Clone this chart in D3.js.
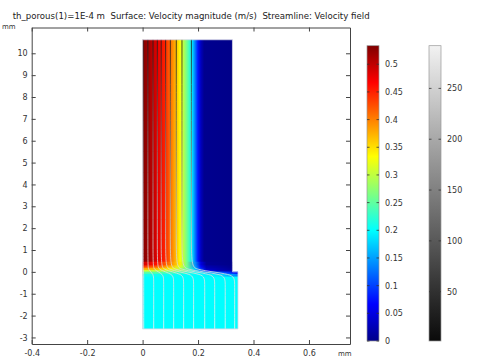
<!DOCTYPE html>
<html><head><meta charset="utf-8">
<script src="https://cdn.jsdelivr.net/npm/d3@7"></script>
<style>body{margin:0;background:#fff}svg{display:block}</style>
</head><body><svg id="c" width="483" height="363"></svg>
<script>
// ---------- data ----------
const titleText = "th_porous(1)=1E-4 m  Surface: Velocity magnitude (m/s)  Streamline: Velocity field";
const xTicks = [-0.4, -0.2, 0, 0.2, 0.4, 0.6];
const xTickLabels = ["-0.4", "-0.2", "0", "0.2", "0.4", "0.6"];
const yTicks = [-3, -2, -1, 0, 1, 2, 3, 4, 5, 6, 7, 8, 9, 10];
const yTickLabels = ["-3", "-2", "-1", "0", "1", "2", "3", "4", "5", "6", "7", "8", "9", "10"];
const xDomain = [-0.4, 0.748];
const yDomain = [-3.3, 11.18];

// geometry (mm)
const channelBox = [0, 0.324, 0, 10.62];   // x0,x1,y0,y1
const porousBox = [0, 0.344, -2.61, 0];

// developed velocity profile in the channel (x in mm, |u| in m/s)
const upperX = [0, 0.027, 0.055, 0.08, 0.1, 0.12, 0.135, 0.153, 0.167, 0.178, 0.189, 0.2, 0.21, 0.222, 0.324];
const upperV = [0.533, 0.51, 0.48, 0.45, 0.41, 0.37, 0.333, 0.28, 0.235, 0.19, 0.133, 0.075, 0.03, 0.003, 0];

// transition bands around the interface y = 0
const bandY0 = [0.28, 0.18, 0.08, 0.0, -0.1, -0.2];
const bandY1 = [0.45, 0.28, 0.18, 0.08, 0.0, -0.1];
const bandX = [
  [0, 0.05, 0.1, 0.135, 0.16, 0.19, 0.21, 0.23, 0.324],
  [0, 0.05, 0.1, 0.135, 0.16, 0.19, 0.21, 0.23, 0.324],
  [0, 0.05, 0.1, 0.135, 0.16, 0.19, 0.21, 0.23, 0.324],
  [0, 0.1, 0.15, 0.18, 0.2, 0.23, 0.27, 0.324],
  [0, 0.15, 0.2, 0.25, 0.3, 0.344],
  [0, 0.2, 0.27, 0.31, 0.344]
];
const bandV = [
  [0.49, 0.46, 0.4, 0.34, 0.26, 0.14, 0.05, 0.006, 0],
  [0.44, 0.42, 0.37, 0.32, 0.26, 0.15, 0.07, 0.02, 0.002],
  [0.38, 0.37, 0.34, 0.3, 0.25, 0.17, 0.09, 0.03, 0.006],
  [0.31, 0.3, 0.27, 0.22, 0.16, 0.07, 0.03, 0.02],
  [0.25, 0.23, 0.2, 0.15, 0.1, 0.06],
  [0.21, 0.2, 0.19, 0.16, 0.13]
];
const porousV = 0.2;

// streamlines: x position in the porous part and in the channel (mm)
const streamLowerX = [0.004, 0.040, 0.076, 0.112, 0.148, 0.184, 0.224, 0.260, 0.298, 0.332];
const streamUpperX = [0.002, 0.019, 0.0375, 0.053, 0.067, 0.083, 0.100, 0.1215, 0.142, 0.176];
// streamline colour quantity along y
const presY = [10.62, 0, -2.61];
const presV = [20, 268, 292];

// colour legends
const velRange = [0, 0.5335];
const velTicks = [0, 0.05, 0.1, 0.15, 0.2, 0.25, 0.3, 0.35, 0.4, 0.45, 0.5];
const velLabels = ["0", "0.05", "0.1", "0.15", "0.2", "0.25", "0.3", "0.35", "0.4", "0.45", "0.5"];
const presRange = [1.5, 292];
const presTicks = [50, 100, 150, 200, 250];
const presLabels = ["50", "100", "150", "200", "250"];

// ---------- drawing ----------
const svg = d3.select("#c");
const FONT = "DejaVu Sans, sans-serif";
const x = d3.scaleLinear().domain(xDomain).range([31.7, 350]);
const y = d3.scaleLinear().domain(yDomain).range([344, 27.5]);

const jetStops = [0, 0.125, 0.375, 0.625, 0.875, 1];
const jet = d3.scaleLinear()
  .domain(jetStops.map(t => velRange[0] + t * (velRange[1] - velRange[0])))
  .range(["#00008a", "#0000ff", "#00ffff", "#ffff00", "#ff0000", "#800000"])
  .clamp(true);
const gray = d3.scaleLinear().domain(presRange).range(["#0a0a0a", "#f2f2f2"]).clamp(true);

const defs = svg.append("defs");
let gid = 0;
function hGrad(xs, vs, width) {
  const id = "g" + (gid++);
  const g = defs.append("linearGradient").attr("id", id)
    .attr("x1", 0).attr("x2", 1).attr("y1", 0).attr("y2", 0);
  xs.forEach((xv, i) => g.append("stop").attr("offset", xv / width).attr("stop-color", jet(vs[i])));
  return "url(#" + id + ")";
}

const field = svg.append("g");
// porous region
field.append("rect")
  .attr("x", x(porousBox[0])).attr("y", y(porousBox[3]))
  .attr("width", x(porousBox[1]) - x(porousBox[0]))
  .attr("height", y(porousBox[2]) - y(porousBox[3]))
  .attr("fill", jet(porousV));
// channel
field.append("rect")
  .attr("x", x(channelBox[0])).attr("y", y(channelBox[3]))
  .attr("width", x(channelBox[1]) - x(channelBox[0]))
  .attr("height", y(channelBox[2]) - y(channelBox[3]))
  .attr("fill", hGrad(upperX, upperV, channelBox[1]));
// transition bands
bandY0.forEach((y0, i) => {
  const w = y0 >= 0 ? channelBox[1] : porousBox[1];
  field.append("rect")
    .attr("x", x(0)).attr("y", y(bandY1[i]) - 0.3)
    .attr("width", x(w) - x(0))
    .attr("height", y(y0) - y(bandY1[i]) + 0.6)
    .attr("fill", hGrad(bandX[i], bandV[i], w));
});

// streamlines
const sg = defs.append("linearGradient").attr("id", "sgrad")
  .attr("gradientUnits", "userSpaceOnUse")
  .attr("x1", 0).attr("x2", 0).attr("y1", y(presY[0])).attr("y2", y(presY[presY.length - 1]));
presY.forEach((py, i) => sg.append("stop")
  .attr("offset", (y(py) - y(presY[0])) / (y(presY[presY.length - 1]) - y(presY[0])))
  .attr("stop-color", gray(presV[i])));
const line = d3.line().x(d => x(d[0])).y(d => y(d[1])).curve(d3.curveBasis);
streamLowerX.forEach((xl, i) => {
  const xu = streamUpperX[i];
  const pts = [[xl, porousBox[2]], [xl, -0.4], [xl, -0.1], [xu, 0.1], [xu, 0.4], [xu, channelBox[3]]];
  svg.append("path").attr("d", line(pts)).attr("fill", "none")
    .attr("stroke", "url(#sgrad)").attr("stroke-width", 1).attr("stroke-opacity", 0.8);
});

// domain outline
svg.append("path").attr("d", d3.line()([
  [x(0), y(channelBox[3])], [x(channelBox[1]), y(channelBox[3])], [x(channelBox[1]), y(0)],
  [x(porousBox[1]), y(0)], [x(porousBox[1]), y(porousBox[2])], [x(0), y(porousBox[2])]
]) + "Z").attr("fill", "none").attr("stroke", "#d6d6e6").attr("stroke-width", 0.8);

// axes
function styleAxis(g) {
  g.selectAll("path.domain").attr("stroke", "#444");
  g.selectAll(".tick line").attr("stroke", "#444");
  g.selectAll("text").attr("fill", "#333").attr("font-family", FONT).attr("font-size", 8);
}
const fmtX = d => xTickLabels[xTicks.indexOf(d)];
const fmtY = d => yTickLabels[yTicks.indexOf(d)];
svg.append("g").attr("transform", `translate(0,${y.range()[0]})`)
  .call(d3.axisBottom(x).tickValues(xTicks).tickFormat(fmtX).tickSize(-4).tickSizeOuter(0).tickPadding(6))
  .call(styleAxis);
svg.append("g").attr("transform", `translate(0,${y.range()[1]})`)
  .call(d3.axisTop(x).tickValues(xTicks).tickFormat("").tickSize(-4).tickSizeOuter(0))
  .call(styleAxis);
svg.append("g").attr("transform", `translate(${x.range()[0]},0)`)
  .call(d3.axisLeft(y).tickValues(yTicks).tickFormat(fmtY).tickSize(-4).tickSizeOuter(0).tickPadding(4))
  .call(styleAxis);
svg.append("g").attr("transform", `translate(${x.range()[1]},0)`)
  .call(d3.axisRight(y).tickValues(yTicks).tickFormat("").tickSize(-4).tickSizeOuter(0))
  .call(styleAxis);

// texts
svg.append("text").attr("x", 12.7).attr("y", 19).text(titleText)
  .attr("xml:space", "preserve").style("white-space", "pre")
  .attr("font-family", FONT).attr("font-size", 8.6).attr("fill", "#222");
svg.append("text").attr("x", 2).attr("y", 28.5).text("mm")
  .attr("font-family", FONT).attr("font-size", 7).attr("fill", "#333");
svg.append("text").attr("x", 338).attr("y", 356).text("mm")
  .attr("font-family", FONT).attr("font-size", 7).attr("fill", "#333");

// colour bars
function colorBar(x0, range, interp, ticks, labels, stopsN) {
  const cy = d3.scaleLinear().domain(range).range([341, 45.7]);
  const id = "cb" + (gid++);
  const g = defs.append("linearGradient").attr("id", id).attr("x1", 0).attr("x2", 0).attr("y1", 1).attr("y2", 0);
  d3.range(stopsN + 1).forEach(i => {
    const t = i / stopsN;
    g.append("stop").attr("offset", t).attr("stop-color", interp(range[0] + t * (range[1] - range[0])));
  });
  const w = 12;
  svg.append("rect").attr("x", x0).attr("y", cy(range[1])).attr("width", w)
    .attr("height", cy(range[0]) - cy(range[1])).attr("fill", `url(#${id})`)
    .attr("stroke", "#999").attr("stroke-width", 0.7);
  ticks.forEach((t, i) => {
    svg.append("line").attr("x1", x0 + w - 2.5).attr("x2", x0 + w).attr("y1", cy(t)).attr("y2", cy(t))
      .attr("stroke", "#333").attr("stroke-width", 0.8);
    svg.append("line").attr("x1", x0).attr("x2", x0 + 2.5).attr("y1", cy(t)).attr("y2", cy(t))
      .attr("stroke", "#333").attr("stroke-width", 0.8);
    svg.append("text").attr("x", x0 + w + 6).attr("y", cy(t) + 3).text(labels[i])
      .attr("font-family", FONT).attr("font-size", 8).attr("fill", "#333");
  });
}
colorBar(367, velRange, jet, velTicks, velLabels, 40);
colorBar(429, presRange, gray, presTicks, presLabels, 10);
</script></body></html>
